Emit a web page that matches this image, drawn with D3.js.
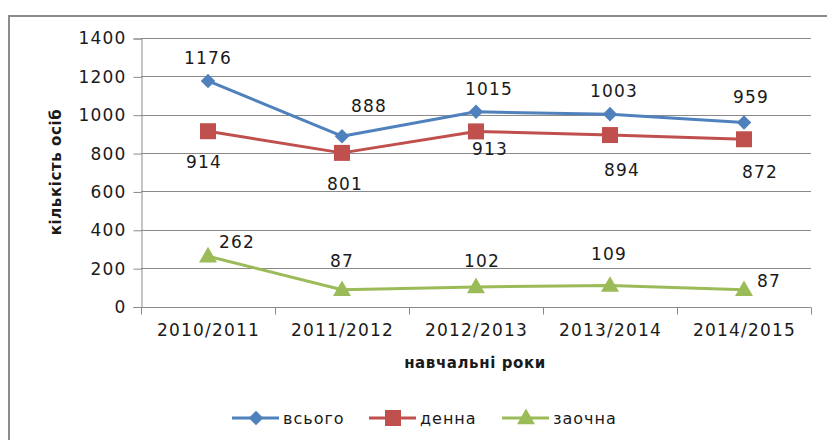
<!DOCTYPE html>
<html>
<head>
<meta charset="utf-8">
<script src="https://cdn.jsdelivr.net/npm/d3@7"></script>
<style>
  body { margin: 0; background: #fff; }
  text { font-family: "DejaVu Sans", sans-serif; fill: #1a1a1a; }
</style>
</head>
<body>
<div id="chart"></div>
<script>
// podaci
const roky = ["2010/2011", "2011/2012", "2012/2013", "2013/2014", "2014/2015"];
const vsogo = [1176, 888, 1015, 1003, 959];
const denna = [914, 801, 913, 894, 872];
const zaochna = [262, 87, 102, 109, 87];
const yTicks = [0, 200, 400, 600, 800, 1000, 1200, 1400];
const nazvy = ["всього", "денна", "заочна"];

const width = 827, height = 440;
const margin = {top: 38, right: 16, bottom: 134, left: 141};

const svg = d3.select("#chart").append("svg")
    .attr("width", width)
    .attr("height", height);

// okvir
svg.append("path")
    .attr("d", "M9,440 V16 H827")
    .attr("fill", "none")
    .attr("stroke", "#8c8c8c")
    .attr("stroke-width", 2);

const x = d3.scaleBand()
    .domain(roky)
    .range([margin.left, width - margin.right]);

const y = d3.scaleLinear()
    .domain([0, 1400])
    .range([height - margin.bottom + 0.5, margin.top]);

// mreza
svg.append("g")
    .selectAll("line")
    .data(yTicks)
    .join("line")
    .attr("x1", margin.left)
    .attr("x2", width - margin.right)
    .attr("y1", d => Math.round(y(d)) + 0.5)
    .attr("y2", d => Math.round(y(d)) + 0.5)
    .attr("stroke", "#8a8a8a");

function yAxis(g) {
    g.attr("transform", `translate(${margin.left + 0.5},0.5)`)
        .call(d3.axisLeft(y).tickValues(yTicks).tickFormat(d3.format("d")).tickSize(8).tickPadding(7))
        .call(g => g.select(".domain").attr("stroke", "#8a8a8a"))
        .call(g => g.selectAll(".tick line").attr("stroke", "#8a8a8a"))
        .call(g => g.selectAll(".tick text").attr("font-size", "17px").attr("letter-spacing", "1.2px")
            .attr("fill", "#1a1a1a").attr("font-family", "DejaVu Sans"));
}

function xAxis(g) {
    g.attr("transform", `translate(0.5,${Math.round(y(0)) + 0.5})`)
        .call(d3.axisBottom(x).tickSize(0).tickPadding(16))
        .call(g => g.select(".domain").remove())
        .call(g => g.selectAll(".tick text").attr("font-size", "17px").attr("letter-spacing", "1.2px")
            .attr("fill", "#1a1a1a").attr("font-family", "DejaVu Sans"));
    // crtice izmedju kategorija
    g.append("g").selectAll("line")
        .data(roky.concat(["kraj"]))
        .join("line")
        .attr("x1", (d, i) => Math.round(margin.left + i * x.bandwidth()))
        .attr("x2", (d, i) => Math.round(margin.left + i * x.bandwidth()))
        .attr("y1", 0).attr("y2", 7)
        .attr("stroke", "#8a8a8a");
}

svg.append("g").call(yAxis);
svg.append("g").call(xAxis);

// nazivi osa
svg.append("text")
    .attr("x", 475).attr("y", 368)
    .attr("text-anchor", "middle")
    .attr("font-size", "15px").attr("font-weight", "bold")
    .attr("letter-spacing", "0.6px")
    .text("навчальні роки");

svg.append("text")
    .attr("transform", "translate(61,172) rotate(-90)")
    .attr("text-anchor", "middle")
    .attr("font-size", "15px").attr("font-weight", "bold")
    .attr("letter-spacing", "0.6px")
    .text("кількість осіб");

const boje = ["#4F81BD", "#C0504D", "#9BBB59"];
const simboli = [d3.symbolDiamond2, d3.symbolSquare, d3.symbolTriangle];
const velicine = [135, 256, 140];
const serije = [vsogo, denna, zaochna];
// pomeraji natpisa (dx, dy od tacke)
const pomeraji = [
    [[0, -17], [27, -24], [13, -17], [4, -17], [7, -20]],
    [[-4, 37], [3, 37], [14, 24], [12, 41], [16, 39]],
    [[29, -8], [0, -23], [6, -20], [-1, -26], [25, -3]]
];

const line = d3.line()
    .x((d, i) => x(roky[i]) + x.bandwidth() / 2)
    .y(d => y(d));

serije.forEach((s, k) => {
    svg.append("path")
        .datum(s)
        .attr("d", line)
        .attr("fill", "none")
        .attr("stroke", boje[k])
        .attr("stroke-width", 3)
        .attr("stroke-linejoin", "round");

    svg.append("g")
        .selectAll("path")
        .data(s)
        .join("path")
        .attr("d", d3.symbol().type(simboli[k]).size(velicine[k]))
        .attr("transform", (d, i) => `translate(${x(roky[i]) + x.bandwidth() / 2},${y(d) + (k === 2 ? 1 : 0)})`)
        .attr("fill", boje[k]);

    svg.append("g")
        .selectAll("text")
        .data(s)
        .join("text")
        .attr("x", (d, i) => x(roky[i]) + x.bandwidth() / 2 + pomeraji[k][i][0])
        .attr("y", (d, i) => y(d) + pomeraji[k][i][1])
        .attr("text-anchor", "middle")
        .attr("font-size", "17px")
        .attr("letter-spacing", "1.2px")
        .text(d => d);
});

// legenda
const legendX = [232, 369, 502];
const leg = svg.append("g");
nazvy.forEach((n, k) => {
    const g = leg.append("g").attr("transform", `translate(${legendX[k]},418)`);
    g.append("line").attr("x1", 0).attr("x2", 47).attr("y1", 0).attr("y2", 0)
        .attr("stroke", boje[k]).attr("stroke-width", 3);
    g.append("path")
        .attr("d", d3.symbol().type(simboli[k]).size(velicine[k]))
        .attr("transform", `translate(24,${k === 2 ? 1 : 0})`)
        .attr("fill", boje[k]);
    g.append("text")
        .attr("x", 51).attr("y", 6)
        .attr("font-size", "16px")
        .attr("letter-spacing", "1px")
        .text(n);
});
</script>
</body>
</html>
